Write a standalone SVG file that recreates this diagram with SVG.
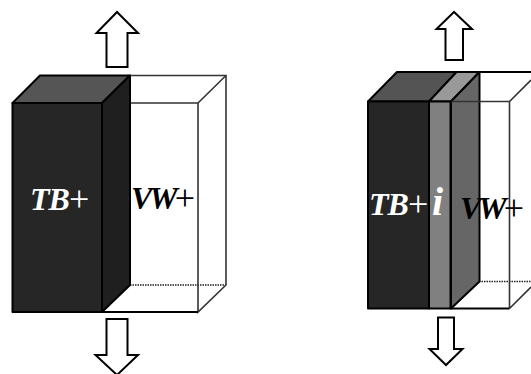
<svg xmlns="http://www.w3.org/2000/svg" width="531" height="374" viewBox="0 0 531 374">
<style>
.e{stroke:#000;stroke-width:2;stroke-linejoin:round}
.t{stroke:#333;stroke-width:1.6;fill:none}
.a{fill:#fff;stroke:#000;stroke-width:2;stroke-linejoin:miter}
.d{fill:none;stroke:#222;stroke-width:1.4;stroke-dasharray:1.5 1}
text{font-family:"Liberation Serif","Times New Roman",serif;font-size:32px;font-weight:bold;font-style:italic}
.tb{letter-spacing:-1px}
.vw{letter-spacing:-3px}
.p{font-weight:normal;font-style:normal;font-size:36px;letter-spacing:0}
</style>
<rect width="531" height="374" fill="#fff"/>
<g id="connectors">
<path class="a" d="M117 12L96.500 33H106.500V67H127.500V33H138Z"/>
<path class="a" d="M106.500 319H127.500V355H138L117 375L95.500 355H106.500Z"/>
<path class="a" d="M454 12L436.500 29H445.500V60H463V29H472Z"/>
<path class="a" d="M438 317.500H454V349H462.500L446 365L429.500 349H438Z"/>
</g>
<g id="cell-left">
<path class="d" d="M130 285H226"/>
<path class="t" d="M130 75.500H226V285L198 312V103H130"/>
<path class="t" d="M198 103L226 75.500"/>
<path class="e" fill="#555" d="M12.500 103L40 75.500H130L102 103Z"/>
<path class="e" fill="#1f1f1f" d="M102 103L130 75.500V285L102 312Z"/>
<rect class="e" fill="#262626" x="12.500" y="103" width="89.500" height="209"/>
<path class="e" fill="none" d="M102 312H198"/>
<text class="tb" x="30" y="209.500" fill="#fff">TB<tspan class="p" dy="1">+</tspan></text>
<text class="vw" x="131" y="209" fill="#000">VW<tspan class="p" dy="1">+</tspan></text>
</g>
<g id="cell-right">
<path class="d" d="M479 281.500H531"/>
<path class="t" d="M509.500 101.500V308.500M509.500 101.500L531 80M509.500 308.500L531 287"/>
<path class="e" fill="none" d="M479 72H531"/>
<path class="e" fill="#545454" d="M368 101.500L397 72H456.500L429 101.500Z"/>
<path class="e" fill="#999" d="M429 101.500L456.500 72H479.500L451 101.500Z"/>
<path class="e" fill="#666" d="M451 101.500L479.500 72V281.500L451 308.500Z"/>
<path class="t" d="M451 101.500H509.500"/>
<rect class="e" fill="#262626" x="368" y="101.500" width="61" height="207"/>
<rect class="e" fill="#808080" x="429" y="101.500" width="21.500" height="207"/>
<path class="e" fill="none" d="M450.500 308.500H509.500"/>
<text class="tb" x="369" y="215" fill="#fff">TB<tspan class="p" dy="1">+</tspan></text>
<text x="432" y="215" fill="#fff" style="font-size:40px">i</text>
<text class="vw" x="460" y="218.500" fill="#000">VW<tspan class="p" dy="1">+</tspan></text>
</g>
</svg>
